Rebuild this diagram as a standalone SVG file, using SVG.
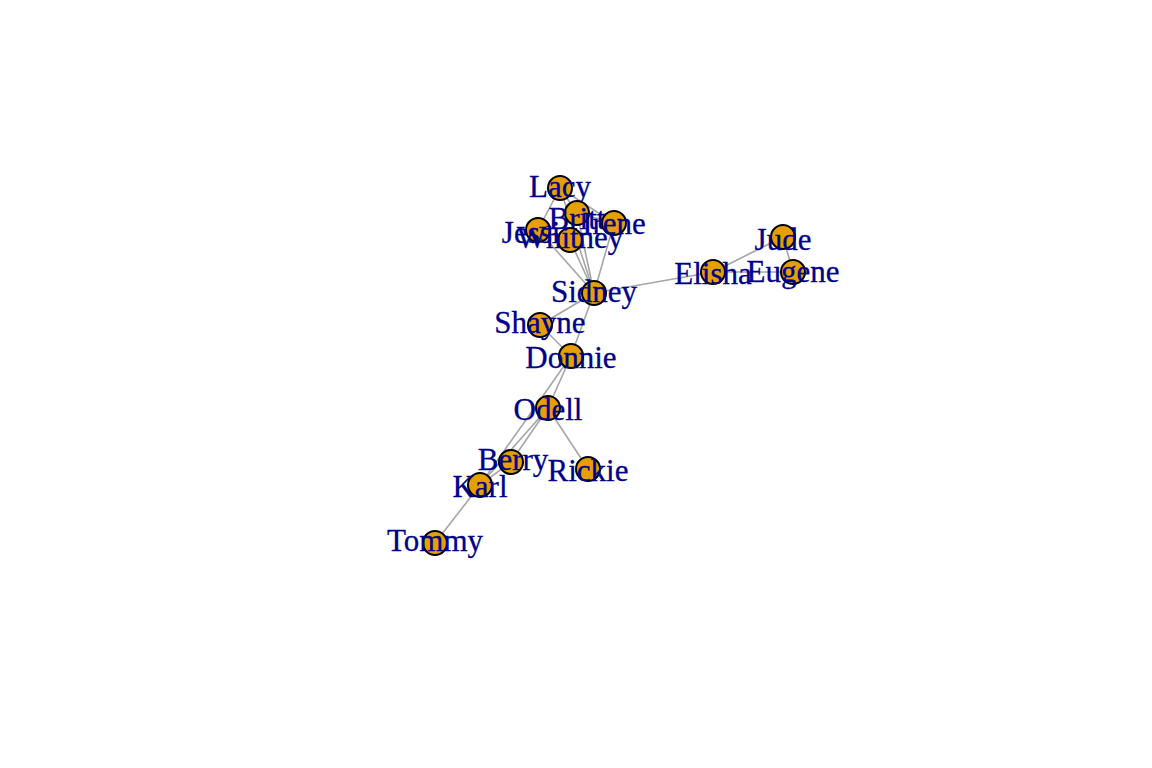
<svg xmlns="http://www.w3.org/2000/svg" width="1152" height="768" viewBox="0 0 1152 768">
<style>
.e{stroke:#a6a6a6;stroke-width:1.6;fill:none}
.n circle{fill:#e69f00;stroke:#000;stroke-width:2}
.n text{font-family:"Liberation Serif","Times New Roman",serif;font-size:31px;fill:#00008b;text-anchor:middle;stroke:#00008b;stroke-width:0.3}
</style>
<rect width="1152" height="768" fill="#fff"/>
<g id="edges">
<line class="e" x1="560" y1="188" x2="538" y2="230"/>
<line class="e" x1="560" y1="188" x2="577" y2="213"/>
<line class="e" x1="560" y1="188" x2="614" y2="223"/>
<line class="e" x1="560" y1="188" x2="594" y2="293"/>
<line class="e" x1="577" y1="213" x2="614" y2="223"/>
<line class="e" x1="577" y1="213" x2="594" y2="293"/>
<line class="e" x1="577" y1="213" x2="570" y2="240"/>
<line class="e" x1="614" y1="223" x2="594" y2="293"/>
<line class="e" x1="538" y1="230" x2="594" y2="293"/>
<line class="e" x1="538" y1="230" x2="570" y2="240"/>
<line class="e" x1="570" y1="240" x2="594" y2="293"/>
<line class="e" x1="594" y1="293" x2="713" y2="272"/>
<line class="e" x1="713" y1="272" x2="783" y2="237"/>
<line class="e" x1="713" y1="272" x2="793" y2="272"/>
<line class="e" x1="783" y1="237" x2="793" y2="272"/>
<line class="e" x1="594" y1="293" x2="540" y2="325"/>
<line class="e" x1="594" y1="293" x2="571" y2="356"/>
<line class="e" x1="540" y1="325" x2="571" y2="356"/>
<line class="e" x1="571" y1="356" x2="548" y2="408"/>
<line class="e" x1="571" y1="356" x2="480" y2="485"/>
<line class="e" x1="548" y1="408" x2="588" y2="469"/>
<line class="e" x1="548" y1="408" x2="511" y2="462"/>
<line class="e" x1="548" y1="408" x2="480" y2="485"/>
<line class="e" x1="511" y1="462" x2="480" y2="485"/>
<line class="e" x1="480" y1="485" x2="435" y2="543"/>
</g>
<g id="Lacy" class="n"><circle cx="560" cy="188" r="12"/><text x="560" y="197">Lacy</text></g>
<g id="Jessie" class="n"><circle cx="538" cy="230" r="12"/><text x="538" y="243">Jessie</text></g>
<g id="Britt" class="n"><circle cx="577" cy="213" r="12"/><text x="577" y="229">Britt</text></g>
<g id="Irene" class="n"><circle cx="614" cy="223" r="12"/><text x="614" y="234">Irene</text></g>
<g id="Whitney" class="n"><circle cx="570" cy="240" r="12"/><text x="570" y="248">Whitney</text></g>
<g id="Sidney" class="n"><circle cx="594" cy="293" r="12"/><text x="594" y="302">Sidney</text></g>
<g id="Elisha" class="n"><circle cx="713" cy="272" r="12"/><text x="713" y="284">Elisha</text></g>
<g id="Jude" class="n"><circle cx="783" cy="237" r="12"/><text x="783" y="250">Jude</text></g>
<g id="Eugene" class="n"><circle cx="793" cy="272" r="12"/><text x="793" y="282">Eugene</text></g>
<g id="Shayne" class="n"><circle cx="540" cy="325" r="12"/><text x="540" y="333">Shayne</text></g>
<g id="Donnie" class="n"><circle cx="571" cy="356" r="12"/><text x="571" y="368">Donnie</text></g>
<g id="Odell" class="n"><circle cx="548" cy="408" r="12"/><text x="548" y="420">Odell</text></g>
<g id="Rickie" class="n"><circle cx="588" cy="469" r="12"/><text x="588" y="481">Rickie</text></g>
<g id="Berry" class="n"><circle cx="511" cy="462" r="12"/><text x="513" y="470">Berry</text></g>
<g id="Karl" class="n"><circle cx="480" cy="485" r="12"/><text x="480" y="497">Karl</text></g>
<g id="Tommy" class="n"><circle cx="435" cy="543" r="12"/><text x="435" y="551">Tommy</text></g>
</svg>
